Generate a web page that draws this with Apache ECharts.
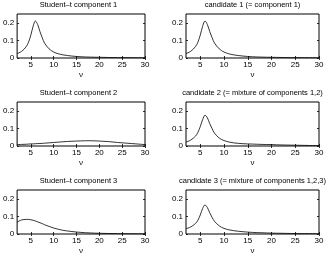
<!DOCTYPE html>
<html>
<head>
<meta charset="utf-8">
<script src="https://cdn.jsdelivr.net/npm/echarts@6/dist/echarts.min.js"></script>
<style>
  html, body { margin: 0; padding: 0; background: #fff; }
  #chart { width: 327px; height: 261px; }
</style>
</head>
<body>
<div id="chart"></div>
<script>
// degrees of freedom grid (x values)
const nu = [2, 3, 4, 4.5, 5, 5.5, 6, 6.5, 7, 7.5, 8, 9, 10, 11, 12, 14, 16, 18, 20, 22, 24, 26, 28, 30]

// densities
const comp1 = [0.025, 0.038, 0.065, 0.09, 0.13, 0.18, 0.21, 0.19, 0.15, 0.115, 0.085, 0.052, 0.034, 0.024, 0.018, 0.011, 0.007, 0.005, 0.004, 0.003, 0.002, 0.002, 0.0015, 0.001]
const comp2 = [0.008, 0.009, 0.01, 0.011, 0.012, 0.012, 0.013, 0.014, 0.014, 0.015, 0.016, 0.018, 0.02, 0.022, 0.024, 0.027, 0.029, 0.03, 0.028, 0.025, 0.02, 0.016, 0.012, 0.008]
const comp3 = [0.068, 0.08, 0.083, 0.083, 0.081, 0.078, 0.074, 0.069, 0.064, 0.059, 0.053, 0.043, 0.034, 0.027, 0.021, 0.014, 0.009, 0.006, 0.004, 0.003, 0.002, 0.0015, 0.001, 0.001]
const cand1 = comp1
const cand2 = [0.022, 0.034, 0.056, 0.077, 0.11, 0.15, 0.175, 0.16, 0.127, 0.098, 0.073, 0.045, 0.031, 0.023, 0.018, 0.013, 0.011, 0.009, 0.008, 0.006, 0.005, 0.004, 0.003, 0.002]
const cand3 = [0.03, 0.04, 0.06, 0.078, 0.108, 0.145, 0.165, 0.15, 0.12, 0.094, 0.072, 0.046, 0.032, 0.024, 0.019, 0.013, 0.009, 0.007, 0.005, 0.004, 0.003, 0.002, 0.002, 0.001]

const xTicks = [5, 10, 15, 20, 25, 30]
const yTicks = [0, 0.1, 0.2]

const panels = [
  { title: 'Student–t component 1', data: comp1 },
  { title: 'candidate 1 (= component 1)', data: cand1 },
  { title: 'Student–t component 2', data: comp2 },
  { title: 'candidate 2 (= mixture of components 1,2)', data: cand2 },
  { title: 'Student–t component 3', data: comp3 },
  { title: 'candidate 3 (= mixture of components 1,2,3)', data: cand3 }
]

const font = 'Liberation Sans, Arial, sans-serif'
const lefts = [12, 186]
const tops = [14, 102, 190]
const W = 133
const H = 44

let grid = [], xAxis = [], yAxis = [], series = [], title = []

panels.forEach((p, i) => {
  const col = i % 2
  const row = Math.floor(i / 2)
  grid.push({ left: lefts[col], top: tops[row], width: W, height: H, show: true, borderColor: '#000', borderWidth: 1, backgroundColor: '#fff' })
  title.push({
    text: p.title,
    left: lefts[col] + W / 2,
    top: tops[row] - 13,
    textAlign: 'center',
    padding: 0,
    textStyle: { fontFamily: font, fontSize: 7.5, fontWeight: 'normal', color: '#000' }
  })
  const tick = { show: true, inside: true, length: 2, lineStyle: { color: '#000', width: 0.8 } }
  // bottom x
  xAxis.push({
    type: 'value', gridIndex: i, min: 2, max: 30, position: 'bottom',
    name: 'ν', nameLocation: 'middle', nameGap: 13,
    nameTextStyle: { fontFamily: font, fontSize: 8, color: '#000' },
    axisLine: { show: false },
    axisTick: Object.assign({ customValues: xTicks }, tick),
    axisLabel: { customValues: xTicks, fontFamily: font, fontSize: 8, color: '#000', margin: 3 },
    splitLine: { show: false }
  })
  // top x (mirror ticks)
  xAxis.push({
    type: 'value', gridIndex: i, min: 2, max: 30, position: 'top',
    axisLine: { show: false },
    axisTick: Object.assign({ customValues: xTicks }, tick),
    axisLabel: { show: false },
    splitLine: { show: false }
  })
  yAxis.push({
    type: 'value', gridIndex: i, min: 0, max: 0.25, position: 'left',
    axisLine: { show: false },
    axisTick: Object.assign({ customValues: yTicks }, tick),
    axisLabel: { customValues: yTicks, fontFamily: font, fontSize: 8, color: '#000', margin: 3 },
    splitLine: { show: false }
  })
  yAxis.push({
    type: 'value', gridIndex: i, min: 0, max: 0.25, position: 'right',
    axisLine: { show: false },
    axisTick: Object.assign({ customValues: yTicks }, tick),
    axisLabel: { show: false },
    splitLine: { show: false }
  })
  series.push({
    type: 'line',
    xAxisIndex: i * 2,
    yAxisIndex: i * 2,
    data: nu.map((v, k) => [v, p.data[k]]),
    smooth: 0.35,
    symbol: 'none',
    lineStyle: { color: '#000', width: 0.8 },
    clip: true
  })
})

const chart = echarts.init(document.getElementById('chart'), null, { renderer: 'canvas' })
chart.setOption({
  animation: false,
  backgroundColor: '#fff',
  title: title,
  grid: grid,
  xAxis: xAxis,
  yAxis: yAxis,
  series: series
})
</script>
</body>
</html>
